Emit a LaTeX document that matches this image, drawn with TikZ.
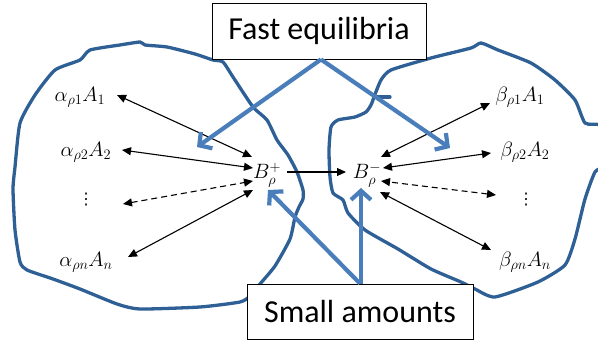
\documentclass[tikz,border=0pt]{standalone}
\usepackage{fontspec}
\setmainfont{Carlito}
\newfontfamily\dejavu{DejaVu Sans}
\usetikzlibrary{arrows.meta}
\definecolor{blobblue}{HTML}{2E6096}
\definecolor{arrblue}{HTML}{4A7EBB}
\tikzset{
  blob/.style={draw=blobblue, line width=3.3pt, line join=round, line cap=round},
  bluearr/.style={draw=arrblue, line width=4.2pt, -{Straight Barb[length=9pt,width=20pt,line width=4.2pt]}},
  blk/.style={line width=1.1pt, {Triangle[length=9pt,width=8pt]}-{Triangle[length=9pt,width=8pt]}},
  blkone/.style={line width=1.1pt, -{Triangle[length=9pt,width=8pt]}},
  dsh/.style={blk, dash pattern=on 6pt off 4pt},
  lab/.style={inner sep=0pt, font=\fontsize{20}{24}\selectfont},
  dots/.style={inner sep=0pt, font=\dejavu\fontsize{16}{18}\selectfont},
  box/.style={draw=black, line width=0.9pt, fill=white, inner sep=0pt, font=\fontsize{32}{36}\selectfont}
}
\begin{document}
\begin{tikzpicture}[x=1pt,y=-1pt]
\useasboundingbox (0,0) rectangle (598,344);
\begin{scope}
\clip (0,0) rectangle (598,344);
% left blob
\draw[blob] plot[smooth, tension=0.35] coordinates {
 (120,45) (140,42) (145,45) (167,47) (195,54) (213,60) (223,62) (233,77) (253,107)
 (267,120) (277,140) (288,155) (297,172) (303,190) (303,199) (299,207) (295,217)
 (290,239) (275,266) (260,284) (250,296) (240,302) (200,307) (140,309) (117,304)
 (80,289) (53,279) (27,270) (20,262) (15,230) (13,189) (15,167) (20,123) (35,95)
 (55,70) (80,60) (90,50) (120,45)};
% right blob
\draw[blob] plot[smooth, tension=0.35] coordinates {
 (374,97) (381,80) (391,70) (431,58) (471,48) (481,43) (498,50) (531,63) (555,80)
 (575,100) (585,123) (600,125) (610,140) (605,165) (595,172) (585,199) (575,239)
 (565,265) (538,282) (495,297) (475,289) (461,282) (431,269) (398,249) (365,230)
 (348,213) (343,200) (333,193) (330,177) (329,150) (331,127) (338,120) (355,117)
 (366,112) (371,105) (374,97)};
\draw[blob] (374,97) -- (390,97);
\end{scope}
% labels
\node[lab] (a1) at (80,97) {$\alpha_{\rho1}A_1$};
\node[lab] (a2) at (86,152) {$\alpha_{\rho2}A_2$};
\node[dots] (ad) at (86,200) {⋮};
\node[lab] (an) at (86,262) {$\alpha_{\rho n}A_n$};
\node[lab] (bp) at (267,175) {$B_\rho^+$};
\node[lab] (bm) at (367,175) {$B_\rho^-$};
\node[lab] (b1) at (520,97) {$\beta_{\rho1}A_1$};
\node[lab] (b2) at (525,152) {$\beta_{\rho2}A_2$};
\node[dots] (bd) at (526,200) {⋮};
\node[lab] (bn) at (525,262) {$\beta_{\rho n}A_n$};
% arrow end points
\coordinate (pa1) at (117,95);  \coordinate (qa1) at (252,157);
\coordinate (pa2) at (122,150); \coordinate (qa2) at (253,168);
\coordinate (pad) at (123,204); \coordinate (qad) at (253,181);
\coordinate (pan) at (128,257); \coordinate (qan) at (253,190);
\coordinate (pb1) at (490,103); \coordinate (qb1) at (381,157);
\coordinate (pb2) at (491,153); \coordinate (qb2) at (383,168);
\coordinate (pbd) at (496,195); \coordinate (qbd) at (381,181);
\coordinate (pbn) at (491,250); \coordinate (qbn) at (380,192);
\coordinate (pm1) at (287,172); \coordinate (pm2) at (346,172);
\draw[blk] (pa1) -- (qa1);
\draw[blk] (pa2) -- (qa2);
\draw[dsh] (pad) -- (qad);
\draw[blk] (pan) -- (qan);
\draw[blk] (pb1) -- (qb1);
\draw[blk] (pb2) -- (qb2);
\draw[dsh] (pbd) -- (qbd);
\draw[blk] (pbn) -- (qbn);
\draw[blkone] (pm1) -- (pm2);
% boxes
\node[box, minimum width=214pt, minimum height=56pt] (fe) at (319,31) {Fast equilibria};
\node[box, minimum width=226pt, minimum height=55pt] (sa) at (360,311.5) {Small amounts};
% blue arrows
\coordinate (t1) at (197,147);
\coordinate (t2) at (450,148);
\coordinate (t3) at (268,190);
\coordinate (t4) at (361,188);
\draw[bluearr] ([xshift=2pt]fe.south) -- (t1);
\draw[bluearr] ([xshift=2pt]fe.south) -- (t2);
\draw[bluearr] (sa.north) -- (t3);
\draw[bluearr] ([xshift=1pt]sa.north) -- (t4);
\end{tikzpicture}
\end{document}
